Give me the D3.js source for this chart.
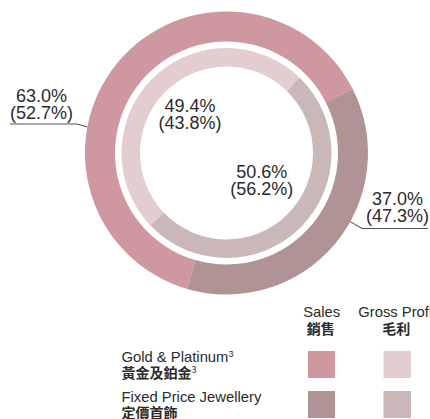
<!DOCTYPE html>
<html><head><meta charset="utf-8">
<script src="https://cdn.jsdelivr.net/npm/d3@7"></script>
<style>
html,body{margin:0;padding:0;background:#fff;overflow:hidden}
text{font-family:"Liberation Sans",Arial,"Noto Sans CJK TC",sans-serif;fill:#2b2b2b}
.zh{font-family:"Noto Sans CJK TC","Liberation Sans",sans-serif;font-weight:bold}
</style></head>
<body><svg id="c" width="430" height="419"></svg>
<script>
const categories = ["Gold & Platinum", "Fixed Price Jewellery"];
const categoriesZh = ["黃金及鉑金", "定價首飾"];
const salesShare = [63.0, 37.0];
const salesPrevShare = [52.7, 47.3];
const profitShare = [49.4, 50.6];
const profitPrevShare = [43.8, 56.2];
const seriesNames = ["Sales", "Gross Profit"];
const seriesNamesZh = ["銷售", "毛利"];
const salesColors = ["#cf97a0", "#b09394"];
const profitColors = ["#e3cdce", "#c9b8b7"];

const svg = d3.select("#c");
const cx = 226.5, cy = 153;
const deg = Math.PI / 180;
const g = svg.append("g").attr("transform", `translate(${cx},${cy})`);

const outerPie = d3.pie().sort(null).value(d => d)
  .startAngle(196.2 * deg).endAngle(196.2 * deg + 2 * Math.PI);
const innerPie = d3.pie().sort(null).value(d => d)
  .startAngle(226.4 * deg).endAngle(226.4 * deg + 2 * Math.PI);
const outerArc = d3.arc().innerRadius(111.5).outerRadius(141.5);
const innerArc = d3.arc().innerRadius(86.5).outerRadius(105);

g.selectAll("path.o").data(outerPie(salesShare)).join("path")
  .attr("class", "o").attr("d", outerArc).attr("fill", (d, i) => salesColors[i]);
g.selectAll("path.i").data(innerPie(profitShare)).join("path")
  .attr("class", "i").attr("d", innerArc).attr("fill", (d, i) => profitColors[i]);

const fmt = v => v.toFixed(1) + "%";
function label(x, y, a, b) {
  svg.append("text").attr("text-anchor", "middle").style("font-size", "18px")
    .attr("x", x).attr("y", y).text(fmt(a));
  svg.append("text").attr("text-anchor", "middle").style("font-size", "18px")
    .attr("x", x).attr("y", y + 17).text("(" + fmt(b) + ")");
}
// outer labels
label(41.5, 101.5, salesShare[0], salesPrevShare[0]);
label(397.5, 204.5, salesShare[1], salesPrevShare[1]);
// inner labels
label(190, 111.5, profitShare[0], profitPrevShare[0]);
label(261.7, 178.3, profitShare[1], profitPrevShare[1]);

// leader lines
const pL = d3.pointRadial(280.6 * deg, 141.5);
const pR = d3.pointRadial(119 * deg, 141.5);
svg.append("path").attr("fill", "none").attr("stroke", "#555").attr("stroke-width", 1.1)
  .attr("d", d3.line()([[10, 124], [77, 124], [cx + pL[0], cy + pL[1]]]));
svg.append("path").attr("fill", "none").attr("stroke", "#555").attr("stroke-width", 1.1)
  .attr("d", d3.line()([[cx + pR[0], cy + pR[1]], [362, 228.5], [428, 228.5]]));

// legend
const colX = [321.7, 397.3];
const rowY = [351, 391];
seriesNames.forEach((s, i) => {
  svg.append("text").attr("x", colX[i]).attr("y", 316.5).attr("text-anchor", "middle")
    .style("font-size", "14.8px").text(s);
  svg.append("text").attr("class", "zh").attr("x", colX[i] - 1).attr("y", 334)
    .attr("text-anchor", "middle").style("font-size", "14px").text(seriesNamesZh[i]);
});
categories.forEach((c, j) => {
  const y = rowY[j];
  const t = svg.append("text").attr("x", 121.5).attr("y", y + 10.5).style("font-size", "14.8px");
  t.append("tspan").text(c);
  if (j === 0) t.append("tspan").attr("dy", -5).style("font-size", "9px").text("3");
  const z = svg.append("text").attr("class", "zh").attr("x", 121.5).attr("y", y + 26.5).style("font-size", "14px");
  z.append("tspan").text(categoriesZh[j]);
  if (j === 0) z.append("tspan").attr("dy", -5).style("font-size", "9px").style("font-weight", "normal").text("3");
  svg.append("rect").attr("x", 308).attr("y", y).attr("width", 27).attr("height", 27).attr("fill", salesColors[j]);
  svg.append("rect").attr("x", 383.5).attr("y", y).attr("width", 27.5).attr("height", 27).attr("fill", profitColors[j]);
});
</script></body></html>
